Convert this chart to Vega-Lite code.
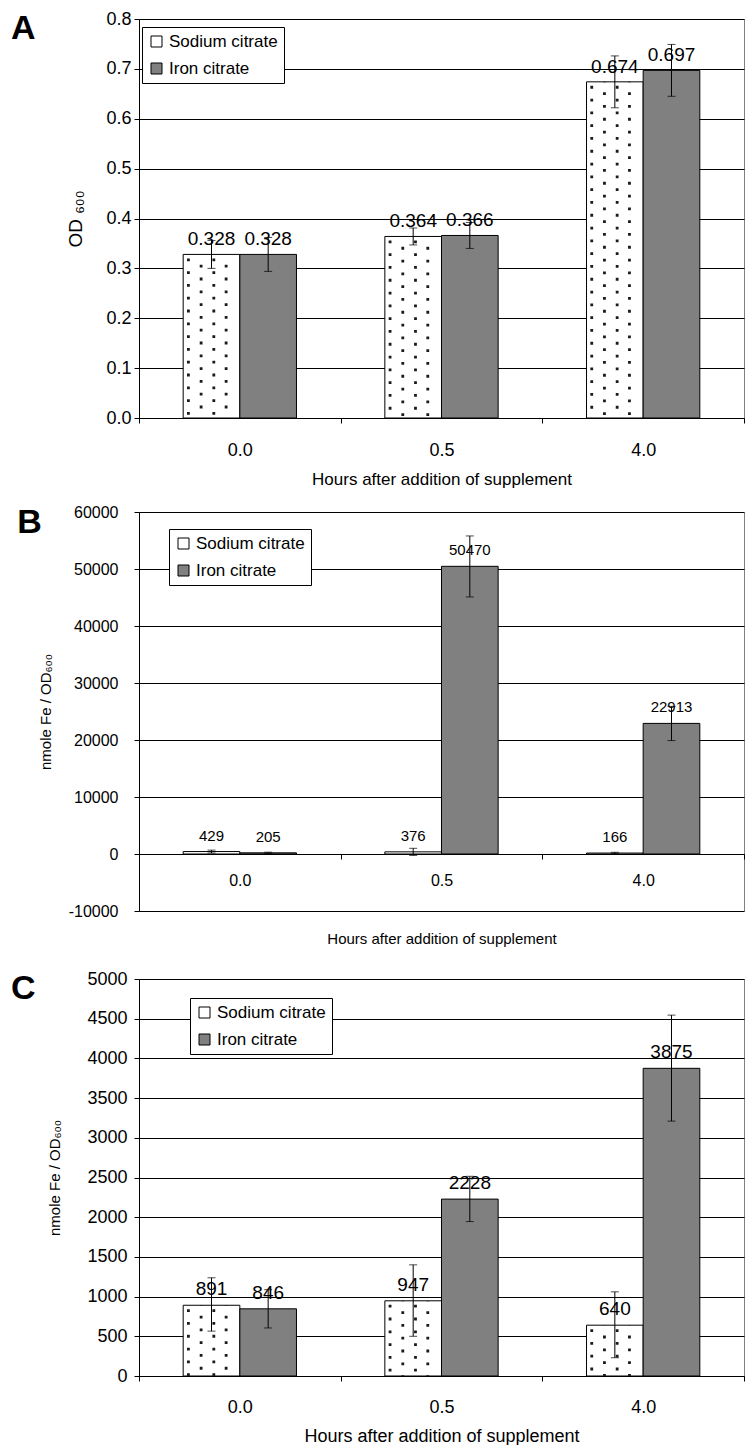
{
  "$schema": "https://vega.github.io/schema/vega-lite/v6.json",
  "padding": {"left": 10, "top": 9, "right": 5, "bottom": 0},
  "config": {
    "font": "Liberation Sans",
    "view": {"stroke": "#808080", "strokeWidth": 1},
    "axis": {"domainColor": "#000", "tickColor": "#000", "gridColor": "#000", "gridWidth": 1, "labelColor": "#000", "titleColor": "#000", "titleFontWeight": "normal", "labelFont": "Liberation Sans", "titleFont": "Liberation Sans", "tickSize": 5, "domainWidth": 1, "tickWidth": 1},
    "title": {"font": "Liberation Sans", "color": "#000"},
    "legend": {"strokeColor": "#000", "fillColor": "#fff", "padding": 6, "symbolType": "square", "symbolSize": 121, "symbolStrokeColor": "#000", "symbolStrokeWidth": 1, "labelFontSize": 17, "labelFont": "Liberation Sans", "labelColor": "#000", "rowPadding": 9, "labelOffset": 4, "cornerRadius": 0}
  },
  "datasets": {
    "odA": [
      {"hour": "0.0", "series": "Sodium citrate", "value": 0.328, "lo": 0.300, "hi": 0.356},
      {"hour": "0.0", "series": "Iron citrate", "value": 0.328, "lo": 0.294, "hi": 0.362},
      {"hour": "0.5", "series": "Sodium citrate", "value": 0.364, "lo": 0.347, "hi": 0.381},
      {"hour": "0.5", "series": "Iron citrate", "value": 0.366, "lo": 0.340, "hi": 0.392},
      {"hour": "4.0", "series": "Sodium citrate", "value": 0.674, "lo": 0.622, "hi": 0.726},
      {"hour": "4.0", "series": "Iron citrate", "value": 0.697, "lo": 0.645, "hi": 0.749}
    ],
    "feB": [
      {"hour": "0.0", "series": "Sodium citrate", "value": 429, "lo": 180, "hi": 680},
      {"hour": "0.0", "series": "Iron citrate", "value": 205, "lo": 90, "hi": 320},
      {"hour": "0.5", "series": "Sodium citrate", "value": 376, "lo": -250, "hi": 1000},
      {"hour": "0.5", "series": "Iron citrate", "value": 50470, "lo": 45100, "hi": 55800},
      {"hour": "4.0", "series": "Sodium citrate", "value": 166, "lo": 30, "hi": 300},
      {"hour": "4.0", "series": "Iron citrate", "value": 22913, "lo": 19900, "hi": 25900}
    ],
    "feC": [
      {"hour": "0.0", "series": "Sodium citrate", "value": 891, "lo": 565, "hi": 1237},
      {"hour": "0.0", "series": "Iron citrate", "value": 846, "lo": 605, "hi": 1087},
      {"hour": "0.5", "series": "Sodium citrate", "value": 947, "lo": 500, "hi": 1400},
      {"hour": "0.5", "series": "Iron citrate", "value": 2228, "lo": 1945, "hi": 2515},
      {"hour": "4.0", "series": "Sodium citrate", "value": 640, "lo": 230, "hi": 1060},
      {"hour": "4.0", "series": "Iron citrate", "value": 3875, "lo": 3210, "hi": 4545}
    ]
  },
  "concat": [
    {
      "width": 605, "height": 399,
      "title": {"text": "A", "anchor": "start", "frame": "bounds", "fontSize": 34, "fontWeight": "bold", "dx": -56, "dy": 36, "offset": 0, "baseline": "top"},
      "data": {"name": "odA"},
      "encoding": {
        "x": {"field": "hour", "type": "nominal", "title": "Hours after addition of supplement", "scale": {"paddingInner": 0, "paddingOuter": 0}, "axis": {"labelAngle": 0, "labelFontSize": 18, "labelPadding": 18, "titleFontSize": 17, "titlePadding": 12, "tickBand": "extent"}},
        "y": {"field": "value", "type": "quantitative", "title": "OD ₆₀₀", "scale": {"domain": [0, 0.8], "nice": false}, "axis": {"values": [0, 0.1, 0.2, 0.3, 0.4, 0.5, 0.6, 0.7, 0.8], "format": ".1f", "labelFontSize": 18, "labelPadding": 3, "titleFontSize": 19, "titlePadding": 20, "grid": true}}
      },
      "layer": [
        {"mark": {"type": "bar", "stroke": "#000", "strokeWidth": 1},
         "encoding": {
           "xOffset": {"field": "series", "type": "nominal", "sort": ["Sodium citrate", "Iron citrate"], "scale": {"paddingInner": 0, "paddingOuter": 0.78}},
           "color": {"field": "series", "type": "nominal", "sort": ["Sodium citrate", "Iron citrate"], "scale": {"domain": ["Sodium citrate", "Iron citrate"], "range": ["#ffffff", "#808080"]}, "legend": {"title": null, "orient": "none", "legendX": 3, "legendY": 8}}}},
        {"transform": [{"filter": "datum.series === 'Sodium citrate'"}], "mark": {"type": "rule", "color": "#1a1a1a", "strokeWidth": 2.8, "strokeDash": [2.8, 10], "strokeDashOffset": 8.8}, "encoding": {"x": {"field": "hour", "type": "nominal", "title": "Hours after addition of supplement", "bandPosition": 0.245}, "y2": {"datum": 0}}},
        {"transform": [{"filter": "datum.series === 'Sodium citrate'"}], "mark": {"type": "rule", "color": "#1a1a1a", "strokeWidth": 2.8, "strokeDash": [2.8, 10], "strokeDashOffset": 2.4}, "encoding": {"x": {"field": "hour", "type": "nominal", "title": "Hours after addition of supplement", "bandPosition": 0.308}, "y2": {"datum": 0}}},
        {"transform": [{"filter": "datum.series === 'Sodium citrate'"}], "mark": {"type": "rule", "color": "#1a1a1a", "strokeWidth": 2.8, "strokeDash": [2.8, 10], "strokeDashOffset": 8.8}, "encoding": {"x": {"field": "hour", "type": "nominal", "title": "Hours after addition of supplement", "bandPosition": 0.371}, "y2": {"datum": 0}}},
        {"transform": [{"filter": "datum.series === 'Sodium citrate'"}], "mark": {"type": "rule", "color": "#1a1a1a", "strokeWidth": 2.8, "strokeDash": [2.8, 10], "strokeDashOffset": 2.4}, "encoding": {"x": {"field": "hour", "type": "nominal", "title": "Hours after addition of supplement", "bandPosition": 0.432}, "y2": {"datum": 0}}},
        {"mark": {"type": "rule", "color": "#000", "strokeWidth": 1}, "encoding": {"xOffset": {"field": "series", "type": "nominal", "sort": ["Sodium citrate", "Iron citrate"], "scale": {"paddingInner": 0, "paddingOuter": 0.78}}, "y": {"field": "lo", "type": "quantitative", "title": "OD ₆₀₀"}, "y2": {"field": "hi"}}},
        {"mark": {"type": "tick", "orient": "horizontal", "size": 8, "thickness": 1, "color": "#000"}, "encoding": {"xOffset": {"field": "series", "type": "nominal", "sort": ["Sodium citrate", "Iron citrate"], "scale": {"paddingInner": 0, "paddingOuter": 0.78}}, "y": {"field": "lo", "type": "quantitative", "title": "OD ₆₀₀"}}},
        {"mark": {"type": "tick", "orient": "horizontal", "size": 8, "thickness": 1, "color": "#000"}, "encoding": {"xOffset": {"field": "series", "type": "nominal", "sort": ["Sodium citrate", "Iron citrate"], "scale": {"paddingInner": 0, "paddingOuter": 0.78}}, "y": {"field": "hi", "type": "quantitative", "title": "OD ₆₀₀"}}},
        {"mark": {"type": "text", "dy": -15, "fontSize": 19, "baseline": "middle", "color": "#000"}, "encoding": {"xOffset": {"field": "series", "type": "nominal", "sort": ["Sodium citrate", "Iron citrate"], "scale": {"paddingInner": 0, "paddingOuter": 0.78}}, "text": {"field": "value", "type": "quantitative", "format": ".3f"}}}
      ]
    },
    {
      "concat": [
        {
          "width": 605, "height": 399,
          "title": {"text": "B", "anchor": "start", "frame": "bounds", "fontSize": 34, "fontWeight": "bold", "dx": -21, "dy": 36, "offset": 0, "baseline": "top"},
          "data": {"name": "feB"},
          "encoding": {
            "x": {"field": "hour", "type": "nominal", "title": "Hours after addition of supplement", "scale": {"paddingInner": 0, "paddingOuter": 0}, "axis": {"labelAngle": 0, "labelFontSize": 16, "labelPadding": 13, "titleFontSize": 15, "titlePadding": 43, "tickBand": "extent", "offset": -57}},
            "xOffset": {"field": "series", "type": "nominal", "sort": ["Sodium citrate", "Iron citrate"], "scale": {"paddingInner": 0, "paddingOuter": 0.78}},
            "y": {"field": "value", "type": "quantitative", "title": "nmole Fe / OD₆₀₀", "scale": {"domain": [-10000, 60000], "nice": false, "zero": false}, "axis": {"values": [-10000, 0, 10000, 20000, 30000, 40000, 50000, 60000], "labelExpr": "'' + datum.value", "labelFontSize": 16, "labelPadding": 16, "titleFontSize": 15, "titlePadding": 15, "grid": true}}
          },
          "layer": [
            {"mark": {"type": "bar", "stroke": "#000", "strokeWidth": 1},
             "encoding": {"y2": {"datum": 0}, "color": {"field": "series", "type": "nominal", "sort": ["Sodium citrate", "Iron citrate"], "scale": {"domain": ["Sodium citrate", "Iron citrate"], "range": ["#ffffff", "#808080"]}, "legend": {"title": null, "orient": "none", "legendX": 30, "legendY": 17}}}},
            {"mark": {"type": "rule", "color": "#000", "strokeWidth": 1}, "encoding": {"y": {"field": "lo", "type": "quantitative", "title": "nmole Fe / OD₆₀₀"}, "y2": {"field": "hi"}}},
            {"mark": {"type": "tick", "orient": "horizontal", "size": 8, "thickness": 1, "color": "#000"}, "encoding": {"y": {"field": "lo", "type": "quantitative", "title": "nmole Fe / OD₆₀₀"}}},
            {"mark": {"type": "tick", "orient": "horizontal", "size": 8, "thickness": 1, "color": "#000"}, "encoding": {"y": {"field": "hi", "type": "quantitative", "title": "nmole Fe / OD₆₀₀"}}},
            {"mark": {"type": "text", "dy": -16, "fontSize": 15, "baseline": "middle", "color": "#000"}, "encoding": {"text": {"field": "value", "type": "quantitative", "format": "d"}}}
          ]
        },
        {
          "width": 605, "height": 397,
          "title": {"text": "C", "anchor": "start", "frame": "bounds", "fontSize": 34, "fontWeight": "bold", "dx": -37, "dy": 36, "offset": 0, "baseline": "top"},
          "data": {"name": "feC"},
          "encoding": {
            "x": {"field": "hour", "type": "nominal", "title": "Hours after addition of supplement", "scale": {"paddingInner": 0, "paddingOuter": 0}, "axis": {"labelAngle": 0, "labelFontSize": 18, "labelPadding": 17, "titleFontSize": 18, "titlePadding": 11, "tickBand": "extent"}},
            "y": {"field": "value", "type": "quantitative", "title": "nmole Fe / OD₆₀₀", "scale": {"domain": [0, 5000], "nice": false}, "axis": {"values": [0, 500, 1000, 1500, 2000, 2500, 3000, 3500, 4000, 4500, 5000], "format": "d", "labelFontSize": 18, "labelPadding": 7, "titleFontSize": 15, "titlePadding": 24, "grid": true}}
          },
          "layer": [
            {"mark": {"type": "bar", "stroke": "#000", "strokeWidth": 1},
             "encoding": {
               "xOffset": {"field": "series", "type": "nominal", "sort": ["Sodium citrate", "Iron citrate"], "scale": {"paddingInner": 0, "paddingOuter": 0.78}},
               "color": {"field": "series", "type": "nominal", "sort": ["Sodium citrate", "Iron citrate"], "scale": {"domain": ["Sodium citrate", "Iron citrate"], "range": ["#ffffff", "#808080"]}, "legend": {"title": null, "orient": "none", "legendX": 51, "legendY": 19}}}},
            {"transform": [{"filter": "datum.series === 'Sodium citrate'"}], "mark": {"type": "rule", "color": "#1a1a1a", "strokeWidth": 2.8, "strokeDash": [2.8, 10], "strokeDashOffset": 8.8}, "encoding": {"x": {"field": "hour", "type": "nominal", "title": "Hours after addition of supplement", "bandPosition": 0.245}, "y2": {"datum": 0}}},
            {"transform": [{"filter": "datum.series === 'Sodium citrate'"}], "mark": {"type": "rule", "color": "#1a1a1a", "strokeWidth": 2.8, "strokeDash": [2.8, 10], "strokeDashOffset": 2.4}, "encoding": {"x": {"field": "hour", "type": "nominal", "title": "Hours after addition of supplement", "bandPosition": 0.308}, "y2": {"datum": 0}}},
            {"transform": [{"filter": "datum.series === 'Sodium citrate'"}], "mark": {"type": "rule", "color": "#1a1a1a", "strokeWidth": 2.8, "strokeDash": [2.8, 10], "strokeDashOffset": 8.8}, "encoding": {"x": {"field": "hour", "type": "nominal", "title": "Hours after addition of supplement", "bandPosition": 0.371}, "y2": {"datum": 0}}},
            {"transform": [{"filter": "datum.series === 'Sodium citrate'"}], "mark": {"type": "rule", "color": "#1a1a1a", "strokeWidth": 2.8, "strokeDash": [2.8, 10], "strokeDashOffset": 2.4}, "encoding": {"x": {"field": "hour", "type": "nominal", "title": "Hours after addition of supplement", "bandPosition": 0.432}, "y2": {"datum": 0}}},
            {"mark": {"type": "rule", "color": "#000", "strokeWidth": 1}, "encoding": {"xOffset": {"field": "series", "type": "nominal", "sort": ["Sodium citrate", "Iron citrate"], "scale": {"paddingInner": 0, "paddingOuter": 0.78}}, "y": {"field": "lo", "type": "quantitative", "title": "nmole Fe / OD₆₀₀"}, "y2": {"field": "hi"}}},
            {"mark": {"type": "tick", "orient": "horizontal", "size": 8, "thickness": 1, "color": "#000"}, "encoding": {"xOffset": {"field": "series", "type": "nominal", "sort": ["Sodium citrate", "Iron citrate"], "scale": {"paddingInner": 0, "paddingOuter": 0.78}}, "y": {"field": "lo", "type": "quantitative", "title": "nmole Fe / OD₆₀₀"}}},
            {"mark": {"type": "tick", "orient": "horizontal", "size": 8, "thickness": 1, "color": "#000"}, "encoding": {"xOffset": {"field": "series", "type": "nominal", "sort": ["Sodium citrate", "Iron citrate"], "scale": {"paddingInner": 0, "paddingOuter": 0.78}}, "y": {"field": "hi", "type": "quantitative", "title": "nmole Fe / OD₆₀₀"}}},
            {"mark": {"type": "text", "dy": -16, "fontSize": 19, "baseline": "middle", "color": "#000"}, "encoding": {"xOffset": {"field": "series", "type": "nominal", "sort": ["Sodium citrate", "Iron citrate"], "scale": {"paddingInner": 0, "paddingOuter": 0.78}}, "text": {"field": "value", "type": "quantitative", "format": "d"}}}
          ]
        }
      ],
      "columns": 1,
      "spacing": 22,
      "align": "none",
      "resolve": {"scale": {"color": "independent"}, "legend": {"color": "independent"}}
    }
  ],
  "columns": 1,
  "spacing": 15,
  "align": "none",
  "resolve": {"scale": {"color": "independent"}, "legend": {"color": "independent"}}
}
